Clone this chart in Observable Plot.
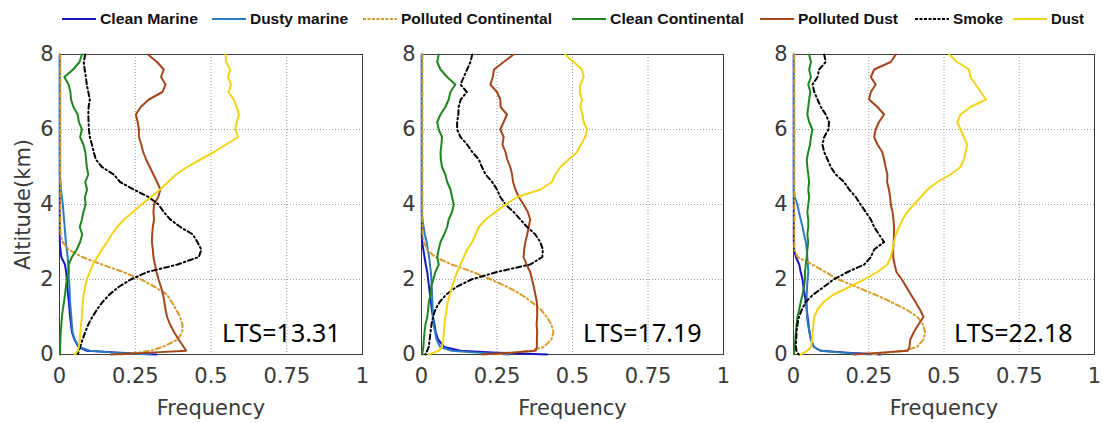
<!DOCTYPE html>
<html>
<head>
<meta charset="utf-8">
<script src="https://cdn.jsdelivr.net/npm/d3@7"></script>
<script src="https://cdn.jsdelivr.net/npm/@observablehq/plot@0.6"></script>
<style>
  html, body { margin: 0; padding: 0; background: #fff; }
  body { width: 1103px; height: 423px; overflow: hidden; }
  #legend { display: block; }
  #panels { display: flex; width: 1103px; }
  #panels svg { flex: none; }
</style>
</head>
<body>
<svg id="legend" width="1103" height="40"></svg>
<div id="panels"></div>
<script>
// Aerosol type frequency profiles (frequency vs altitude) for three LTS regimes.
const aerosolTypes = ["Clean Marine", "Dusty marine", "Polluted Continental", "Clean Continental", "Polluted Dust", "Smoke", "Dust"];
const ltsValues = [13.31, 17.19, 22.18];
const xTicks = [0, 0.25, 0.5, 0.75, 1];
const yTicks = [0, 2, 4, 6, 8];

// Altitude levels (km) shared by every profile
const altitude = [8.0, 7.8, 7.6, 7.4, 7.2, 7.0, 6.8, 6.6, 6.4, 6.2,
                  6.0, 5.8, 5.6, 5.4, 5.2, 5.0, 4.8, 4.6, 4.4, 4.2,
                  4.0, 3.8, 3.6, 3.4, 3.2, 3.0, 2.8, 2.6, 2.4, 2.2,
                  2.0, 1.8, 1.6, 1.4, 1.2, 1.0, 0.8, 0.6, 0.4, 0.2,
                  0.1, 0.05, 0];

// ---- LTS = 13.31 ----
const cleanMarine13 = [0.001, 0.001, 0.001, 0.001, 0.001, 0.001, 0.001, 0.001, 0.001, 0.001,
                       0.001, 0.001, 0.001, 0.001, 0.001, 0.001, 0.001, 0.001, 0.001, 0.001,
                       0.001, 0.001, 0.001, 0.001, 0.001, 0.001, 0.003, 0.006, 0.018, 0.022,
                       0.024, 0.026, 0.028, 0.031, 0.033, 0.035, 0.038, 0.041, 0.049, 0.063,
                       0.09, 0.2, 0.32];
const dustyMarine13 = [0.001, 0.001, 0.001, 0.001, 0.001, 0.001, 0.001, 0.001, 0.001, 0.001,
                       0.001, 0.001, 0.001, 0.001, 0.001, 0.001, 0.001, 0.003, 0.005, 0.008,
                       0.011, 0.013, 0.015, 0.017, 0.019, 0.021, 0.024, 0.027, 0.029, 0.03,
                       0.031, 0.033, 0.034, 0.035, 0.037, 0.039, 0.041, 0.043, 0.05, 0.065,
                       0.1, 0.18, 0.3];
const pollutedCont13 = [0.003, 0.003, 0.003, 0.003, 0.003, 0.003, 0.003, 0.003, 0.003, 0.003,
                        0.003, 0.003, 0.003, 0.003, 0.003, 0.003, 0.003, 0.003, 0.003, 0.003,
                        0.003, 0.003, 0.003, 0.003, 0.004, 0.01, 0.03, 0.075, 0.14, 0.21,
                        0.27, 0.315, 0.355, 0.37, 0.385, 0.398, 0.406, 0.405, 0.39, 0.34,
                        0.3, 0.26, 0.2];
const cleanCont13 = [0.074, 0.066, 0.045, 0.016, 0.03, 0.036, 0.038, 0.046, 0.06, 0.064,
                     0.074, 0.068, 0.079, 0.085, 0.088, 0.09, 0.095, 0.085, 0.091, 0.084,
                     0.086, 0.079, 0.074, 0.067, 0.075, 0.068, 0.057, 0.041, 0.03, 0.03,
                     0.024, 0.021, 0.018, 0.015, 0.011, 0.008, 0.006, 0.004, 0.003, 0.002,
                     0.002, 0.002, 0.002];
const pollutedDust13 = [0.292, 0.322, 0.344, 0.335, 0.35, 0.34, 0.295, 0.268, 0.252, 0.258,
                        0.262, 0.262, 0.27, 0.276, 0.286, 0.298, 0.31, 0.322, 0.333, 0.326,
                        0.312, 0.31, 0.312, 0.308, 0.306, 0.305, 0.308, 0.31, 0.315, 0.32,
                        0.327, 0.335, 0.342, 0.346, 0.35, 0.355, 0.365, 0.378, 0.393, 0.41,
                        0.418, 0.3, 0.17];
const smoke13 = [0.085, 0.08, 0.083, 0.087, 0.09, 0.095, 0.1, 0.096, 0.095, 0.096,
                 0.097, 0.1, 0.107, 0.113, 0.12, 0.14, 0.179, 0.2, 0.245, 0.294,
                 0.327, 0.344, 0.366, 0.399, 0.44, 0.455, 0.468, 0.46, 0.39, 0.29,
                 0.235, 0.195, 0.165, 0.142, 0.124, 0.108, 0.095, 0.085, 0.076, 0.068,
                 0.064, 0.062, 0.06];
const dust13 = [0.548, 0.55, 0.563, 0.556, 0.566, 0.558, 0.575, 0.585, 0.592, 0.585,
                0.58, 0.59, 0.55, 0.51, 0.465, 0.421, 0.385, 0.358, 0.332, 0.303,
                0.27, 0.243, 0.213, 0.19, 0.172, 0.157, 0.14, 0.125, 0.11, 0.1,
                0.09, 0.085, 0.08, 0.077, 0.075, 0.074, 0.071, 0.069, 0.067, 0.064,
                0.06, 0.055, 0.05];

// ---- LTS = 17.19 ----
const cleanMarine17 = [0.001, 0.001, 0.001, 0.001, 0.001, 0.001, 0.001, 0.001, 0.001, 0.001,
                       0.001, 0.001, 0.001, 0.001, 0.001, 0.001, 0.001, 0.001, 0.001, 0.001,
                       0.001, 0.001, 0.001, 0.001, 0.001, 0.002, 0.006, 0.01, 0.014, 0.019,
                       0.022, 0.025, 0.028, 0.031, 0.034, 0.038, 0.043, 0.047, 0.055, 0.075,
                       0.13, 0.25, 0.416];
const dustyMarine17 = [0.001, 0.001, 0.001, 0.001, 0.001, 0.001, 0.001, 0.001, 0.001, 0.001,
                       0.001, 0.001, 0.001, 0.001, 0.001, 0.001, 0.001, 0.001, 0.001, 0.001,
                       0.001, 0.001, 0.003, 0.007, 0.011, 0.017, 0.021, 0.025, 0.028, 0.031,
                       0.033, 0.034, 0.035, 0.036, 0.037, 0.038, 0.04, 0.045, 0.05, 0.062,
                       0.1, 0.18, 0.29];
const pollutedCont17 = [0.003, 0.003, 0.003, 0.003, 0.003, 0.003, 0.003, 0.003, 0.003, 0.003,
                        0.003, 0.003, 0.003, 0.003, 0.003, 0.003, 0.003, 0.003, 0.003, 0.003,
                        0.003, 0.003, 0.003, 0.003, 0.004, 0.008, 0.018, 0.045, 0.1, 0.17,
                        0.23, 0.285, 0.33, 0.365, 0.395, 0.415, 0.43, 0.437, 0.43, 0.405,
                        0.36, 0.3, 0.24];
const cleanCont17 = [0.057, 0.052, 0.063, 0.085, 0.112, 0.096, 0.09, 0.079, 0.063, 0.052,
                     0.057, 0.068, 0.066, 0.063, 0.064, 0.068, 0.079, 0.085, 0.096, 0.101,
                     0.107, 0.101, 0.09, 0.085, 0.075, 0.063, 0.057, 0.052, 0.057, 0.046,
                     0.039, 0.032, 0.03, 0.024, 0.022, 0.019, 0.013, 0.01, 0.008, 0.006,
                     0.004, 0.003, 0.003];
const pollutedDust17 = [0.305, 0.272, 0.24, 0.236, 0.228, 0.25, 0.261, 0.262, 0.283, 0.272,
                        0.261, 0.272, 0.268, 0.278, 0.284, 0.294, 0.3, 0.303, 0.311, 0.322,
                        0.338, 0.352, 0.36, 0.355, 0.35, 0.344, 0.34, 0.338, 0.348, 0.36,
                        0.366, 0.372, 0.377, 0.382, 0.383, 0.383, 0.381, 0.383, 0.382, 0.382,
                        0.378, 0.3, 0.2];
const smoke17 = [0.168, 0.162, 0.151, 0.14, 0.129, 0.15, 0.13, 0.123, 0.122, 0.118,
                 0.118, 0.129, 0.151, 0.168, 0.19, 0.2, 0.212, 0.234, 0.25, 0.261,
                 0.278, 0.305, 0.327, 0.35, 0.377, 0.393, 0.402, 0.4, 0.36, 0.25,
                 0.165, 0.115, 0.082, 0.06, 0.046, 0.038, 0.033, 0.03, 0.027, 0.024,
                 0.019, 0.015, 0.013];
const dust17 = [0.476, 0.504, 0.531, 0.537, 0.526, 0.524, 0.531, 0.526, 0.533, 0.537,
                0.548, 0.542, 0.528, 0.515, 0.487, 0.46, 0.443, 0.432, 0.394, 0.316,
                0.278, 0.245, 0.212, 0.19, 0.179, 0.168, 0.151, 0.14, 0.129, 0.118,
                0.109, 0.101, 0.094, 0.087, 0.083, 0.079, 0.076, 0.074, 0.072, 0.068,
                0.057, 0.041, 0.024];

// ---- LTS = 22.18 ----
const cleanMarine22 = [0.001, 0.001, 0.001, 0.001, 0.001, 0.001, 0.001, 0.001, 0.001, 0.001,
                       0.001, 0.001, 0.001, 0.001, 0.001, 0.001, 0.001, 0.001, 0.001, 0.001,
                       0.001, 0.001, 0.001, 0.001, 0.001, 0.001, 0.002, 0.008, 0.019, 0.024,
                       0.03, 0.033, 0.037, 0.041, 0.044, 0.047, 0.05, 0.053, 0.058, 0.068,
                       0.09, 0.18, 0.29];
const dustyMarine22 = [0.001, 0.001, 0.001, 0.001, 0.001, 0.001, 0.001, 0.001, 0.001, 0.001,
                       0.001, 0.001, 0.001, 0.001, 0.001, 0.001, 0.001, 0.001, 0.001, 0.004,
                       0.013, 0.018, 0.024, 0.03, 0.035, 0.041, 0.044, 0.046, 0.048, 0.049,
                       0.047, 0.045, 0.044, 0.044, 0.044, 0.045, 0.048, 0.053, 0.058, 0.068,
                       0.09, 0.16, 0.257];
const pollutedCont22 = [0.003, 0.003, 0.003, 0.003, 0.003, 0.003, 0.003, 0.003, 0.003, 0.003,
                        0.003, 0.003, 0.003, 0.003, 0.003, 0.003, 0.003, 0.003, 0.003, 0.003,
                        0.003, 0.003, 0.003, 0.003, 0.003, 0.003, 0.003, 0.013, 0.063, 0.105,
                        0.15, 0.21, 0.27, 0.325, 0.375, 0.412, 0.43, 0.437, 0.432, 0.41,
                        0.367, 0.312, 0.257];
const cleanCont22 = [0.052, 0.058, 0.052, 0.058, 0.049, 0.056, 0.052, 0.049, 0.046, 0.052,
                     0.063, 0.058, 0.055, 0.049, 0.044, 0.046, 0.049, 0.052, 0.049, 0.052,
                     0.049, 0.046, 0.049, 0.049, 0.046, 0.049, 0.046, 0.044, 0.041, 0.038,
                     0.038, 0.035, 0.03, 0.024, 0.019, 0.013, 0.01, 0.008, 0.006, 0.004,
                     0.003, 0.002, 0.002];
const pollutedDust22 = [0.34, 0.323, 0.268, 0.257, 0.273, 0.257, 0.251, 0.279, 0.301, 0.284,
                        0.273, 0.268, 0.279, 0.295, 0.301, 0.306, 0.312, 0.311, 0.317, 0.321,
                        0.323, 0.329, 0.332, 0.334, 0.334, 0.333, 0.331, 0.331, 0.336, 0.342,
                        0.36, 0.375, 0.39, 0.405, 0.42, 0.432, 0.415, 0.4, 0.388, 0.385,
                        0.38, 0.29, 0.2];
const smoke22 = [0.102, 0.107, 0.085, 0.08, 0.063, 0.069, 0.08, 0.091, 0.107, 0.118,
                 0.116, 0.102, 0.096, 0.102, 0.113, 0.124, 0.14, 0.168, 0.185, 0.207,
                 0.223, 0.24, 0.257, 0.268, 0.284, 0.301, 0.268, 0.257, 0.235, 0.18,
                 0.133, 0.1, 0.066, 0.04, 0.028, 0.018, 0.013, 0.01, 0.009, 0.008,
                 0.01, 0.013, 0.018];
const dust22 = [0.517, 0.544, 0.583, 0.588, 0.605, 0.622, 0.64, 0.588, 0.555, 0.544,
                0.555, 0.566, 0.577, 0.572, 0.566, 0.555, 0.522, 0.478, 0.445, 0.423,
                0.4, 0.378, 0.362, 0.351, 0.34, 0.334, 0.329, 0.323, 0.312, 0.279,
                0.235, 0.185, 0.133, 0.1, 0.08, 0.069, 0.066, 0.064, 0.062, 0.058,
                0.046, 0.035, 0.024];

// Line styles, in the same order as aerosolTypes
const lineColors = ["#1717c4", "#2a7cbc", "#d99a2b", "#1f861f", "#a4461c", "#000000", "#f3d417"];
const lineDashes = [null, null, "5,3,1.5,3", null, null, "5,3,1.5,3", null];

// Panel layout: svg width and margins so the three frames sit side by side
const panels = [
  {lts: ltsValues[0], profiles: [cleanMarine13, dustyMarine13, pollutedCont13, cleanCont13, pollutedDust13, smoke13, dust13],
   width: 390, marginLeft: 59, marginRight: 28, yLabel: "Altitude(km)"},
  {lts: ltsValues[1], profiles: [cleanMarine17, dustyMarine17, pollutedCont17, cleanCont17, pollutedDust17, smoke17, dust17],
   width: 350, marginLeft: 31, marginRight: 17, yLabel: null},
  {lts: ltsValues[2], profiles: [cleanMarine22, dustyMarine22, pollutedCont22, cleanCont22, pollutedDust22, smoke22, dust22],
   width: 363, marginLeft: 53, marginRight: 9, yLabel: null}
];

function drawPanel({lts, profiles, width, marginLeft, marginRight, yLabel}) {
  const gridStyle = {stroke: "#8c8c8c", strokeOpacity: 0.85, strokeDasharray: "1,2"};
  const marks = [
    Plot.gridX(xTicks, gridStyle),
    Plot.gridY(yTicks, gridStyle),
    Plot.frame({stroke: "#3c3c3c", strokeWidth: 1}),
    Plot.axisX(xTicks, {
      tickSize: 0, tickPadding: 14, tickFormat: d => String(d), fontSize: 21,
      label: "Frequency", labelAnchor: "center", labelOffset: 60, labelArrow: "none"
    }),
    Plot.axisY(yTicks, {
      tickSize: 0, tickPadding: 6, tickFormat: d => String(d), fontSize: 21,
      label: yLabel, labelAnchor: "center", labelOffset: 44, labelArrow: "none"
    })
  ];
  aerosolTypes.forEach((type, i) => {
    const rows = altitude.map((alt, j) => ({type, alt, freq: profiles[i][j]}));
    marks.push(Plot.line(rows, {
      x: "freq", y: "alt",
      stroke: lineColors[i], strokeWidth: 2,
      strokeDasharray: lineDashes[i] ?? undefined,
      curve: "linear"
    }));
  });
  marks.push(Plot.text([lts], {
    text: d => `LTS=${d}`,
    frameAnchor: "bottom-right", textAnchor: "end", lineAnchor: "bottom",
    dx: -22, dy: -13, fontSize: 25, fontFamily: "Noto Sans", fill: "#000"
  }));
  return Plot.plot({
    width, height: 383,
    marginTop: 14, marginBottom: 69, marginLeft, marginRight,
    x: {domain: [0, 1]},
    y: {domain: [0, 8]},
    style: {fontFamily: "DejaVu Sans", fontSize: "21px", color: "#3a3a3a", background: "#fff"},
    marks
  });
}

const host = document.getElementById("panels");
panels.forEach(p => host.appendChild(drawPanel(p)));

// Legend row above the panels
const legendLineX = [62, 212, 363, 572, 760, 915, 1013];
const legendTextLength = [98, 98, 151, 134, 100, 50, 33];
const legend = d3.select("#legend");
aerosolTypes.forEach((type, i) => {
  const x0 = legendLineX[i];
  legend.append("line")
    .attr("x1", x0).attr("x2", x0 + 34)
    .attr("y1", 19).attr("y2", 19)
    .attr("stroke", lineColors[i]).attr("stroke-width", 2)
    .attr("stroke-dasharray", lineDashes[i] ? "3,1.5" : null);
  legend.append("text")
    .attr("x", x0 + 38).attr("y", 24)
    .attr("font-family", "Liberation Sans, Arial, sans-serif")
    .attr("font-weight", "bold").attr("font-size", 14)
    .attr("fill", "#111")
    .attr("textLength", legendTextLength[i])
    .attr("lengthAdjust", "spacingAndGlyphs")
    .text(type);
});
</script>
</body>
</html>
